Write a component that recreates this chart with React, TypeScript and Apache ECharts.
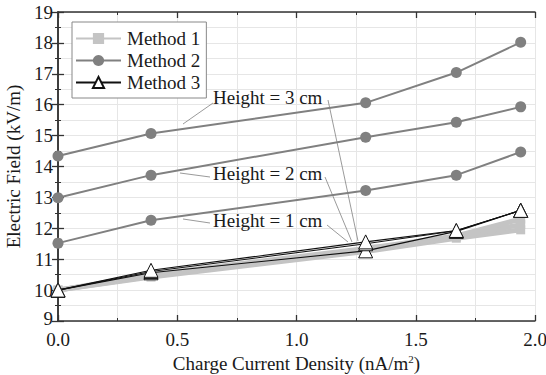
import React, { useEffect, useRef } from "react";
import * as echarts from "echarts";

const xValues = [0, 0.39, 1.29, 1.67, 1.94];

// Method 1 (light gray, squares)
const m1H1 = [10, 10.42, 11.25, 11.68, 11.95];
const m1H2 = [10, 10.45, 11.3, 11.72, 12.12];
const m1H3 = [10, 10.5, 11.35, 11.75, 12.3];

// Method 2 (gray, circles)
const m2H1 = [11.52, 12.26, 13.22, 13.72, 14.47];
const m2H2 = [12.99, 13.72, 14.95, 15.43, 15.93];
const m2H3 = [14.34, 15.07, 16.06, 17.04, 18.02];

// Method 3 (black, triangles)
const m3H1 = [10, 10.56, 11.27, 11.9, 12.58];
const m3H2 = [10, 10.6, 11.5, 11.92, 12.58];
const m3H3 = [10, 10.64, 11.56, 11.93, 12.58];

const xTicks = [0, 0.5, 1.0, 1.5, 2.0];
const yTicks = [9, 10, 11, 12, 13, 14, 15, 16, 17, 18, 19];

const annotations = ["Height = 3 cm", "Height = 2 cm", "Height = 1 cm"];

const FONT = '"Liberation Serif", "Times New Roman", serif';
const FS = 19;

function pairs(ys: number[]) {
  return xValues.map((x, i) => [x, ys[i]]);
}

export default function App() {
  const ref = useRef<HTMLDivElement>(null);
  useEffect(() => {
    if (!ref.current) return;
    const chart = echarts.init(ref.current, undefined, { renderer: "svg" });

    const m1 = (data: number[]) => ({
      name: "Method 1",
      type: "line",
      data: pairs(data),
      symbol: "rect",
      symbolSize: 9,
      lineStyle: { color: "#c4c4c4", width: 5 },
      itemStyle: { color: "#c4c4c4" },
      z: 2,
    });
    const m2 = (data: number[]) => ({
      name: "Method 2",
      type: "line",
      data: pairs(data),
      symbol: "circle",
      symbolSize: 11,
      lineStyle: { color: "#808080", width: 2 },
      itemStyle: { color: "#808080" },
      z: 3,
    });
    const m3 = (data: number[]) => ({
      name: "Method 3",
      type: "line",
      data: pairs(data),
      symbol: "triangle",
      symbolSize: 14,
      lineStyle: { color: "#111", width: 1.1 },
      itemStyle: { color: "#fff", borderColor: "#111", borderWidth: 1 },
      z: 4,
    });

    const lineColor = "#808080";
    const leader = (x1: number, y1: number, x2: number, y2: number) => ({
      type: "line",
      shape: { x1, y1, x2, y2 },
      style: { stroke: lineColor, lineWidth: 0.8 },
      z: 10,
    });
    const label = (text: string, x: number, y: number) => ({
      type: "text",
      x,
      y,
      style: {
        text,
        font: `${FS}px ${FONT}`,
        fill: "#1a1a1a",
        align: "left",
        verticalAlign: "middle",
      },
      z: 10,
    });

    const axisCommon = {
      axisLine: { show: true, lineStyle: { color: "#333", width: 1.5 } },
      axisTick: { show: true, inside: true, length: 6, lineStyle: { color: "#333", width: 1.3 } },
      minorTick: { show: true, splitNumber: 2, length: 3, lineStyle: { color: "#333", width: 1 } },
    };

    chart.setOption({
      animation: false,
      backgroundColor: "#fff",
      grid: { left: 58, right: 11, top: 12, bottom: 54, outerBoundsMode: "none", containLabel: false },
      legend: {
        data: ["Method 1", "Method 2", "Method 3"],
        orient: "vertical",
        left: 72,
        top: 22,
        itemWidth: 45,
        itemHeight: 14,
        itemGap: 3,
        padding: [7, 6, 6, 3],
        borderColor: "#888",
        borderWidth: 1,
        backgroundColor: "#fff",
        textStyle: { fontFamily: FONT, fontSize: FS, color: "#1a1a1a", padding: [0, 0, 0, 1] },
      },
      xAxis: [
        {
          type: "value",
          min: 0,
          max: 2,
          interval: 0.5,
          ...axisCommon,
          splitLine: { show: true, lineStyle: { color: "#e6e6e6", width: 1 } },
          minorSplitLine: { show: true, lineStyle: { color: "#e6e6e6", width: 1 } },
          axisLabel: {
            fontFamily: FONT,
            fontSize: FS,
            lineHeight: 14,
            color: "#1a1a1a",
            margin: 11,
            formatter: (v: number) => (xTicks.includes(v) ? v.toFixed(1) : ""),
          },
          name: "{a|Charge Current Density (nA/m}{s|2}{a|)}",
          nameLocation: "middle",
          nameGap: 32,
          nameTextStyle: {
            rich: {
              a: { fontFamily: FONT, fontSize: FS, color: "#1a1a1a" },
              s: { fontFamily: FONT, fontSize: 11, color: "#1a1a1a", verticalAlign: "top", padding: [0, 0, 9, 0] },
            },
          },
        },
        {
          type: "value",
          position: "top",
          min: 0,
          max: 2,
          interval: 0.5,
          ...axisCommon,
          axisLabel: { show: false },
          splitLine: { show: false },
        },
      ],
      yAxis: [
        {
          type: "value",
          min: 9,
          max: 19,
          interval: 1,
          ...axisCommon,
          splitLine: { show: true, lineStyle: { color: "#e6e6e6", width: 1 } },
          minorSplitLine: { show: true, lineStyle: { color: "#e6e6e6", width: 1 } },
          axisLabel: {
            fontFamily: FONT,
            fontSize: FS,
            lineHeight: 14,
            color: "#1a1a1a",
            margin: 5,
            formatter: (v: number) =>
              v === yTicks[0] ? `{lo|${v}}` : yTicks.includes(v) ? String(v) : "",
            rich: {
              lo: { fontFamily: FONT, fontSize: FS, lineHeight: 14, color: "#1a1a1a", padding: [0, 0, 5, 0] },
            },
          },
          name: "Electric Field (kV/m)",
          nameLocation: "middle",
          nameGap: 31,
          nameTextStyle: { fontFamily: FONT, fontSize: FS, color: "#1a1a1a" },
        },
        {
          type: "value",
          position: "right",
          min: 9,
          max: 19,
          interval: 1,
          ...axisCommon,
          axisLabel: { show: false },
          splitLine: { show: false },
        },
      ],
      series: [m1(m1H1), m1(m1H2), m1(m1H3), m2(m2H1), m2(m2H2), m2(m2H3), m3(m3H1), m3(m3H2), m3(m3H3)],
      graphic: [
        label(annotations[0], 213, 97),
        label(annotations[1], 213, 173),
        label(annotations[2], 213, 220),
        leader(213, 103, 183, 124),
        leader(328, 100, 358, 241),
        leader(210, 177, 180, 173),
        leader(325, 177, 352, 242),
        leader(210, 223, 183, 219),
        leader(327, 225, 348, 242),
      ],
    });
    return () => chart.dispose();
  }, []);
  return (
    <div
      ref={ref}
      style={{ position: "absolute", left: 0, top: 0, width: 546, height: 375 }}
    />
  );
}
